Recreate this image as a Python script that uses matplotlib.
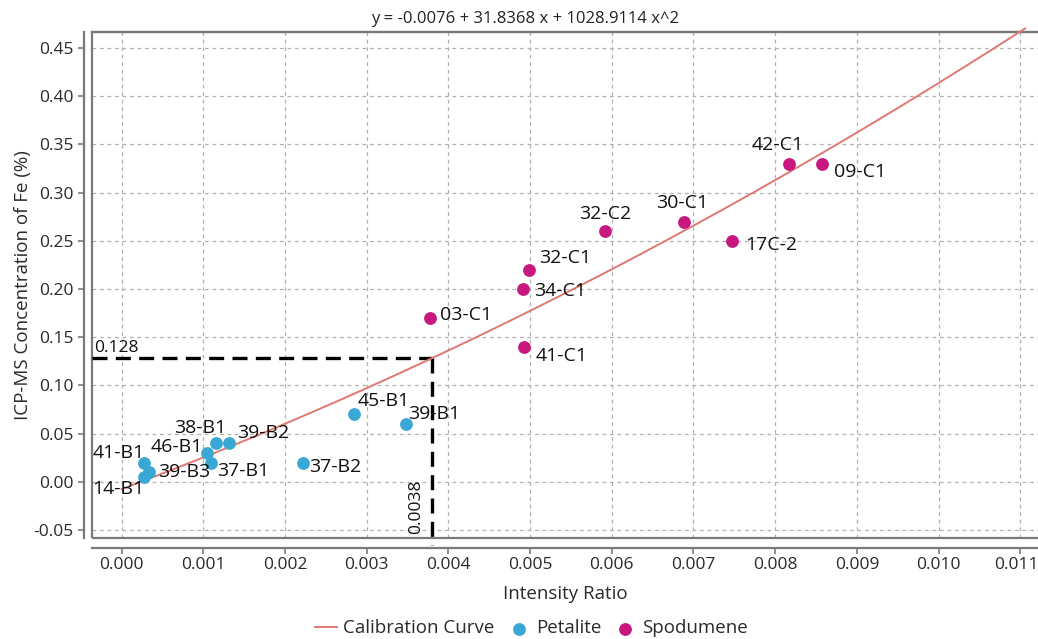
import numpy as np
import matplotlib
matplotlib.use("Agg")
import matplotlib.pyplot as plt
from matplotlib.patches import Rectangle
from matplotlib.transforms import ScaledTranslation

plt.rcParams['font.family'] = ['Open Sans', 'DejaVu Sans']

# ---- data ----
coef = [-0.0076, 31.8368, 1028.9114]   # y = c0 + c1 x + c2 x^2
curve_x_max = 0.01106

pet_names = ["14-B1", "41-B1", "39-B3", "46-B1", "37-B1", "38-B1", "39-B2", "37-B2", "45-B1", "39-B1"]
pet_x = [0.00027, 0.00027, 0.00034, 0.00105, 0.00110, 0.00115, 0.00132, 0.00222, 0.00285, 0.00348]
pet_y = [0.005, 0.020, 0.010, 0.030, 0.020, 0.040, 0.040, 0.020, 0.070, 0.060]

spo_names = ["03-C1", "34-C1", "32-C1", "41-C1", "32-C2", "30-C1", "17C-2", "42-C1", "09-C1"]
spo_x = [0.00377, 0.00491, 0.00499, 0.00493, 0.00592, 0.00689, 0.00747, 0.00817, 0.00857]
spo_y = [0.17, 0.20, 0.22, 0.14, 0.26, 0.27, 0.25, 0.33, 0.33]

ref_x = 0.0038
ref_y = 0.128

xticks = [0.000, 0.001, 0.002, 0.003, 0.004, 0.005, 0.006, 0.007, 0.008, 0.009, 0.010, 0.011]
yticks = [-0.05, 0.00, 0.05, 0.10, 0.15, 0.20, 0.25, 0.30, 0.35, 0.40, 0.45]

# ---- label placement (pixel offsets, style only) ----
pet_lab = {"14-B1": (1, -12, 'right'), "41-B1": (1, 10, 'right'), "39-B3": (9, 0, 'left'),
           "46-B1": (-4, 6, 'right'), "37-B1": (6, -8, 'left'), "38-B1": (-15, 15, 'center'),
           "39-B2": (8, 10, 'left'), "37-B2": (6, -4, 'left'), "45-B1": (3, 13, 'left'),
           "39-B1": (2, 10, 'left')}
spo_lab = {"03-C1": (10, 3, 'left'), "34-C1": (11, -2, 'left'), "32-C1": (10, 12, 'left'),
           "41-C1": (11, -9, 'left'), "32-C2": (0, 17, 'center'), "30-C1": (-2, 19, 'center'),
           "17C-2": (13, -4, 'left'), "42-C1": (-11, 19, 'center'), "09-C1": (12, -8, 'left')}

c_curve = '#E07872'
c_pet = '#3AA8D4'
c_spo = '#C8177F'
c_axis = '#7a7a7a'
c_text = '#2a2a2a'

fig = plt.figure(figsize=(10.38, 6.39), dpi=100)
ax = fig.add_axes([92/1038, (639-538)/639, (1038-92)/1038, (538-32)/639])

ax.set_xlim(-0.000362, 0.011217)
ax.set_ylim(-0.0583, 0.4666)

xs = np.linspace(0, curve_x_max, 300)
ys = coef[0] + coef[1]*xs + coef[2]*xs**2
ax.plot(xs, ys, color=c_curve, lw=1.4, label='Calibration Curve', clip_on=False, zorder=3)

ax.scatter(pet_x, pet_y, s=85, color=c_pet, label='Petalite', zorder=4, linewidths=0)
ax.scatter(spo_x, spo_y, s=85, color=c_spo, label='Spodumene', zorder=4, linewidths=0)

for n, x, y in zip(pet_names, pet_x, pet_y):
    dx, dy, ha = pet_lab[n]
    ax.annotate(n, (x, y), xytext=(dx, dy), textcoords='offset pixels', ha=ha, va='center',
                fontsize=14, color='#111111', zorder=5)
for n, x, y in zip(spo_names, spo_x, spo_y):
    dx, dy, ha = spo_lab[n]
    ax.annotate(n, (x, y), xytext=(dx, dy), textcoords='offset pixels', ha=ha, va='center',
                fontsize=14, color='#111111', zorder=5)

# reference dashed lines
x0 = ax.get_xlim()[0]
ax.plot([x0, ref_x], [ref_y, ref_y], color='black', lw=2.4, ls=(0, (4.5, 2.5)), zorder=2, clip_on=False)
ax.plot([ref_x, ref_x], [ref_y, -0.0655], color='black', lw=2.4, ls=(0, (4.5, 2.5)), zorder=2, clip_on=False)
ax.text(-0.00033, ref_y + 0.002, "0.128", fontsize=12.5, ha='left', va='bottom', color='#111111')
ax.text(ref_x - 0.0002, -0.0545, "0.0038", fontsize=12.5, ha='center', va='bottom', rotation=90, color='#111111')

# grid
ax.set_xticks(xticks)
ax.set_yticks(yticks)
ax.grid(True, color='#b0b0b0', ls=(0, (3, 3)), lw=0.9)
ax.set_axisbelow(True)

ax.xaxis.set_major_formatter(matplotlib.ticker.FormatStrFormatter('%.3f'))
ax.yaxis.set_major_formatter(matplotlib.ticker.FormatStrFormatter('%.2f'))

ax.spines['right'].set_visible(False)
ax.spines['top'].set_color(c_axis)
ax.spines['top'].set_linewidth(1.6)
for s in ['left', 'bottom']:
    ax.spines[s].set_color(c_axis)
    ax.spines[s].set_linewidth(1.6)
ax.spines['left'].set_position(('outward', 6))
ax.spines['bottom'].set_position(('outward', 7))
# inner box lines
ax.add_patch(Rectangle((0, 0), 1.2, 1, transform=ax.transAxes, fill=False, edgecolor=c_axis,
                       lw=1.6, clip_on=False, zorder=1))

ax.tick_params(axis='both', colors=c_axis, labelcolor=c_text, labelsize=12.5, length=4, width=1.2)
ax.tick_params(axis='y', pad=3)
ax.tick_params(axis='x', pad=3)

# nudge last x tick label so it stays inside the figure
last = ax.xaxis.get_major_ticks()[-1].label1
last.set_transform(last.get_transform() + ScaledTranslation(-4/100, 0, fig.dpi_scale_trans))

ax.set_xlabel('Intensity Ratio', fontsize=13.5, color=c_text, labelpad=8)
ax.set_ylabel('ICP-MS Concentration of Fe (%)', fontsize=13.5, color=c_text, labelpad=1)

fig.text(0.506, 0.970, 'y = -0.0076 + 31.8368 x + 1028.9114 x^2', ha='center', va='center',
         fontsize=12, color='#222222')

fig.legend(loc='lower center', bbox_to_anchor=(0.512, -0.024), ncol=3, frameon=False,
           fontsize=13.5, handlelength=1.2, handletextpad=0.3, columnspacing=0.7,
           markerscale=1.0, labelcolor=c_text)

fig.savefig('out.png', dpi=100)
